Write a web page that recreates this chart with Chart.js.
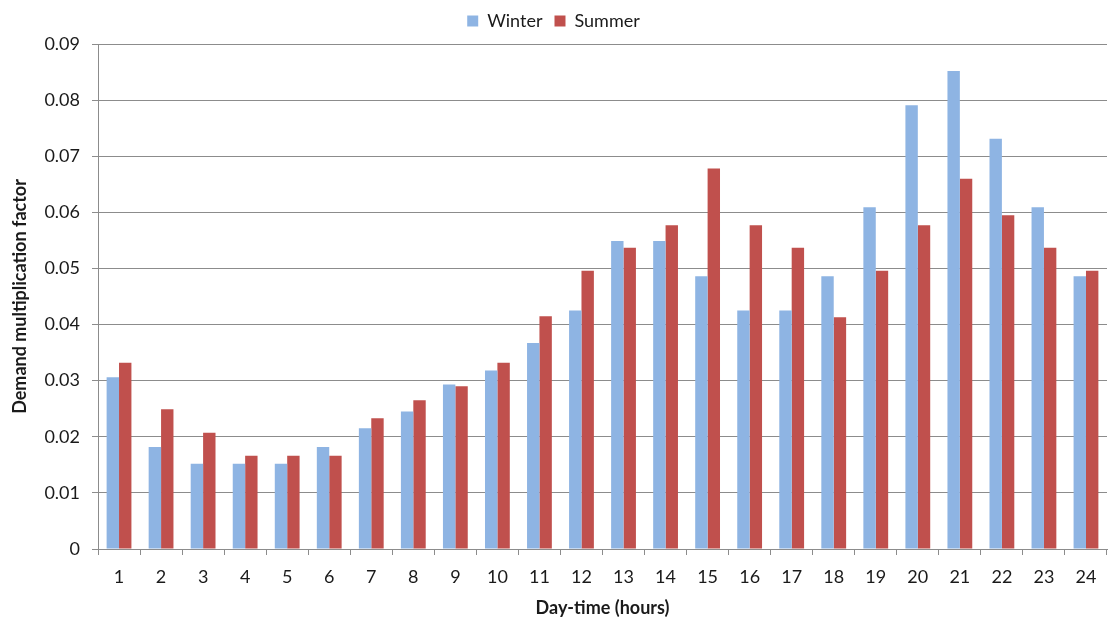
<!DOCTYPE html>
<html>
<head>
<meta charset="utf-8">
<script src="https://cdn.jsdelivr.net/npm/chart.js@4"></script>
<style>
  html, body { margin: 0; padding: 0; background: #fff; }
  #wrap { width: 1110px; height: 622px; position: relative; }
</style>
</head>
<body>
<div id="wrap"><canvas id="chart"></canvas></div>
<script>
// Hourly demand multiplication factors
var hours = ['1', '2', '3', '4', '5', '6', '7', '8', '9', '10', '11', '12',
             '13', '14', '15', '16', '17', '18', '19', '20', '21', '22', '23', '24'];
var winter = [0.0306, 0.0182, 0.0152, 0.0152, 0.0152, 0.0182, 0.0215, 0.0245, 0.0293, 0.0318, 0.0367, 0.0425,
              0.0549, 0.0549, 0.0486, 0.0425, 0.0425, 0.0486, 0.0609, 0.0791, 0.0852, 0.0731, 0.0609, 0.0486];
var summer = [0.0332, 0.0249, 0.0207, 0.0166, 0.0166, 0.0166, 0.0233, 0.0265, 0.0290, 0.0332, 0.0415, 0.0496,
              0.0537, 0.0577, 0.0678, 0.0577, 0.0537, 0.0413, 0.0496, 0.0577, 0.0660, 0.0595, 0.0537, 0.0496];
var yTicks = [0, 0.01, 0.02, 0.03, 0.04, 0.05, 0.06, 0.07, 0.08, 0.09];

var gridColor = '#8c8c8c';
var textColor = '#1a1a1a';
var fontFamily = 'Lato, "Open Sans", sans-serif';

// leave a little extra room under the legend
var legendGap = {
  id: 'legendGap',
  beforeLayout: function(chart) {
    var legend = chart.legend;
    if (!legend || legend._gapPatched) return;
    var fit = legend.fit;
    legend.fit = function() {
      fit.call(this);
      this.height += 4;
    };
    legend._gapPatched = true;
  }
};

window.addEventListener('load', setup);

function setup() {
  var ctx = document.getElementById('chart').getContext('2d');
  new Chart(ctx, {
    type: 'bar',
    data: {
      labels: hours,
      datasets: [{
        label: 'Winter',
        data: winter,
        backgroundColor: '#8EB4E3'
      }, {
        label: 'Summer',
        data: summer,
        backgroundColor: '#C0504D'
      }]
    },
    plugins: [legendGap],
    options: {
      responsive: true,
      maintainAspectRatio: false,
      animation: false,
      categoryPercentage: 0.59,
      barPercentage: 1.0,
      layout: { padding: { top: 0, right: 3, bottom: 0, left: 0 } },
      plugins: {
        legend: {
          position: 'top',
          labels: {
            boxWidth: 11,
            boxHeight: 11,
            padding: 12,
            color: textColor,
            font: { family: fontFamily, size: 18 }
          }
        },
        tooltip: { enabled: false }
      },
      scales: {
        x: {
          grid: {
            drawOnChartArea: false,
            drawTicks: true,
            tickLength: 6,
            color: gridColor
          },
          border: { color: gridColor },
          ticks: {
            padding: 11,
            color: textColor,
            font: { family: fontFamily, size: 18 }
          },
          title: {
            display: true,
            text: 'Day-time (hours)',
            color: textColor,
            padding: { top: 0, bottom: 3 },
            font: { family: fontFamily, size: 18, weight: 'bold' }
          },
          afterFit: function(scale) { scale.height = 73; }
        },
        y: {
          min: 0,
          max: 0.09,
          grid: {
            color: gridColor,
            tickLength: 6
          },
          border: { color: gridColor },
          afterBuildTicks: function(scale) {
            scale.ticks = yTicks.map(function(v) { return { value: v }; });
          },
          ticks: {
            padding: 12,
            color: textColor,
            font: { family: fontFamily, size: 18 },
            callback: function(v) { return v === 0 ? '0' : v.toFixed(2); }
          },
          title: {
            display: true,
            text: 'Demand multiplication factor',
            color: textColor,
            padding: { top: 9, bottom: 0 },
            font: { family: fontFamily, size: 18, weight: 'bold' }
          },
          afterFit: function(scale) { scale.width = 98; }
        }
      }
    }
  });
}
</script>
</body>
</html>
